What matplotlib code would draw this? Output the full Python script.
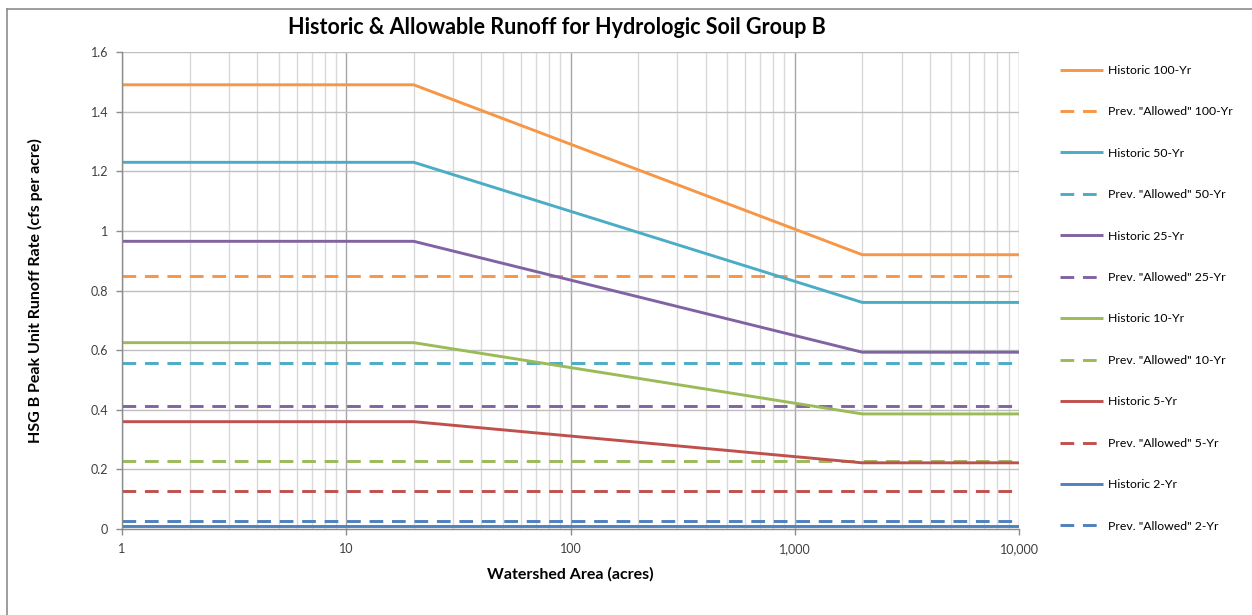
import matplotlib
matplotlib.use('Agg')

import matplotlib.pyplot as plt
import matplotlib.ticker as mticker
from matplotlib.lines import Line2D
import numpy as np

plt.rcParams['font.family'] = ['Lato', 'DejaVu Sans']

# watershed area breakpoints (acres)
area = np.array([1, 20, 2000, 10000])

hist_100 = np.array([1.49, 1.49, 0.92, 0.92])
hist_50 = np.array([1.23, 1.23, 0.76, 0.76])
hist_25 = np.array([0.965, 0.965, 0.593, 0.593])
hist_10 = np.array([0.625, 0.625, 0.386, 0.386])
hist_5 = np.array([0.36, 0.36, 0.222, 0.222])
hist_2 = np.array([0.009, 0.009, 0.009, 0.009])

allowed_100 = 0.85
allowed_50 = 0.557
allowed_25 = 0.411
allowed_10 = 0.229
allowed_5 = 0.128
allowed_2 = 0.026

periods = ['100-Yr', '50-Yr', '25-Yr', '10-Yr', '5-Yr', '2-Yr']
historic = [hist_100, hist_50, hist_25, hist_10, hist_5, hist_2]
allowed = [allowed_100, allowed_50, allowed_25, allowed_10, allowed_5, allowed_2]
colors = ['#F79646', '#4BACC6', '#8064A2', '#9BBB59', '#C0504D', '#4F81BD']

W, H = 1252, 615
fig = plt.figure(figsize=(W / 100, H / 100), dpi=100)
ax = fig.add_axes([122 / W, 1 - 529 / H, (1019 - 122) / W, (529 - 52) / H])

lw = 2.1
for per, h, a, c in zip(periods, historic, allowed, colors):
    ax.plot(area, h, color=c, lw=lw, solid_capstyle='butt', label='Historic ' + per)
    ax.plot([area[0], area[-1]], [a, a], color=c, lw=lw,
            linestyle=(0, (4.7, 3.0)), dash_capstyle='butt',
            label='Prev. "Allowed" ' + per)

ax.set_xscale('log')
ax.set_xlim(1, 10000)
ax.set_ylim(0, 1.6)
ax.set_yticks(np.arange(0, 1.61, 0.2))
ax.yaxis.set_major_formatter(mticker.FuncFormatter(lambda v, p: '0' if v == 0 else ('1' if abs(v - 1) < 1e-9 else f'{v:.1f}')))
ax.xaxis.set_major_formatter(mticker.FuncFormatter(lambda v, p: f'{int(round(v)):,}'))
ax.xaxis.set_minor_locator(mticker.LogLocator(base=10, subs=np.arange(2, 10)))
ax.xaxis.set_minor_formatter(mticker.NullFormatter())

ax.grid(True, which='major', axis='y', color='#bfbfbf', lw=1.0)
ax.grid(True, which='major', axis='x', color='#a6a6a6', lw=1.0)
ax.grid(True, which='minor', axis='x', color='#d9d9d9', lw=1.0)
ax.set_axisbelow(True)

for s in ['top', 'right']:
    ax.spines[s].set_visible(False)
for s in ['left', 'bottom']:
    ax.spines[s].set_color('#8c8c8c')
    ax.spines[s].set_linewidth(1.0)

ax.tick_params(axis='both', which='major', direction='out', length=4, width=1,
               color='#8c8c8c', labelsize=9, labelcolor='#404040', pad=6)
ax.tick_params(axis='x', which='minor', length=0)

ax.set_xlabel('Watershed Area (acres)', fontsize=11.5, fontweight='bold', labelpad=9)
ax.set_ylabel('HSG B Peak Unit Runoff Rate (cfs per acre)', fontsize=11.5,
              fontweight='bold', labelpad=34)
fig.text(557 / W, 1 - 28 / H, 'Historic & Allowable Runoff for Hydrologic Soil Group B',
         ha='center', va='center', fontsize=15.5, fontweight='bold')

fig.legend(loc='upper left', bbox_to_anchor=(1055 / W, 1 - 60 / H), frameon=False,
           fontsize=8.8, labelspacing=2.49, handlelength=3.5, handletextpad=0.4,
           borderaxespad=0)

# outer chart border
fig.add_artist(Line2D([7 / W, 7 / W], [1 - 9 / H, 0], color='#8c8c8c', lw=1.2,
                      transform=fig.transFigure))
fig.add_artist(Line2D([7 / W, 1], [1 - 9 / H, 1 - 9 / H], color='#8c8c8c', lw=1.2,
                      transform=fig.transFigure))

fig.savefig('out.png', dpi=100)
